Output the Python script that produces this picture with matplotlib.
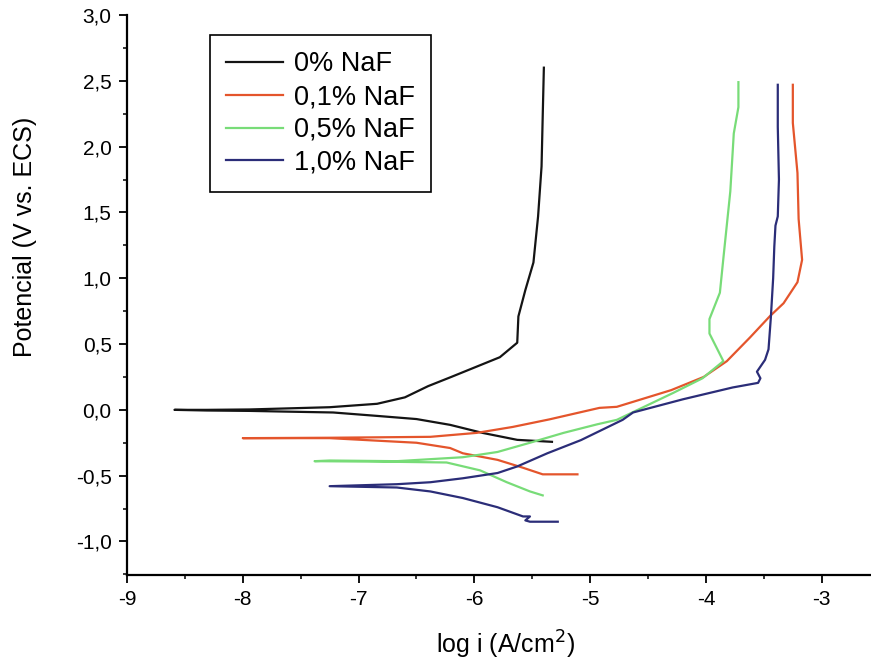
import matplotlib
matplotlib.use('Agg')
import matplotlib.pyplot as plt
from matplotlib.ticker import MultipleLocator

plt.rcParams['font.family'] = ['Liberation Sans', 'DejaVu Sans']

# =====================
# Donnees
# =====================

# 0% NaF
x_0 = [-5.33, -5.63, -5.93, -6.21, -6.50, -6.84, -7.22, -7.65, -7.94, -8.31, -8.59,
       -8.31, -7.94, -7.25, -6.84, -6.60, -6.40, -6.20, -6.06, -5.78, -5.63,
       -5.62, -5.56, -5.49, -5.45, -5.42, -5.41, -5.40]
y_0 = [-0.243, -0.228, -0.175, -0.114, -0.070, -0.046, -0.020, -0.013, -0.008, -0.005, 0.0,
       0.0, 0.003, 0.02, 0.046, 0.095, 0.18, 0.25, 0.30, 0.40, 0.51,
       0.71, 0.91, 1.12, 1.47, 1.85, 2.23, 2.60]

# 0,1% NaF
x_01 = [-5.11, -5.41, -5.58, -5.80, -6.10, -6.21, -6.50, -6.93, -7.25, -8.00,
        -7.25, -6.38, -5.98, -5.67, -5.35, -4.92, -4.77, -4.30, -4.02, -3.82,
        -3.62, -3.45, -3.33, -3.21, -3.17, -3.20, -3.21, -3.25, -3.25]
y_01 = [-0.49, -0.49, -0.44, -0.38, -0.33, -0.29, -0.25, -0.23, -0.215, -0.215,
        -0.212, -0.205, -0.175, -0.13, -0.072, 0.015, 0.023, 0.15, 0.25, 0.37,
        0.55, 0.71, 0.81, 0.97, 1.14, 1.45, 1.80, 2.18, 2.47]

# 0,5% NaF
x_05 = [-5.41, -5.52, -5.72, -5.95, -6.24, -6.67, -7.38,
        -7.25, -6.67, -6.10, -5.80, -5.52, -5.23, -4.94, -4.77, -4.28, -4.03, -3.85,
        -3.97, -3.97, -3.88, -3.85, -3.79, -3.76, -3.72, -3.72]
y_05 = [-0.65, -0.62, -0.55, -0.46, -0.40, -0.395, -0.39,
        -0.385, -0.39, -0.36, -0.32, -0.25, -0.175, -0.11, -0.076, 0.13, 0.24, 0.37,
        0.58, 0.69, 0.89, 1.15, 1.66, 2.10, 2.30, 2.49]

# 1,0% NaF
x_10 = [-5.28, -5.52, -5.56, -5.52, -5.58, -5.80, -6.10, -6.38, -6.67, -7.25,
        -6.67, -6.38, -6.10, -5.80, -5.63, -5.37, -5.08, -4.72, -4.63, -4.20, -3.77,
        -3.55, -3.53, -3.56, -3.49, -3.46, -3.44, -3.42, -3.41, -3.40, -3.38, -3.37,
        -3.38, -3.38]
y_10 = [-0.85, -0.85, -0.84, -0.81, -0.81, -0.74, -0.67, -0.62, -0.59, -0.58,
        -0.565, -0.55, -0.52, -0.48, -0.43, -0.33, -0.23, -0.076, -0.02, 0.08, 0.17,
        0.205, 0.24, 0.29, 0.38, 0.46, 0.70, 1.00, 1.24, 1.40, 1.47, 1.75,
        2.15, 2.47]

labels = ['0% NaF', '0,1% NaF', '0,5% NaF', '1,0% NaF']
couleurs = ['#141414', '#e4552c', '#78dc78', '#2b2d78']

xticks = [-9, -8, -7, -6, -5, -4, -3]
xtick_labels = ['-9', '-8', '-7', '-6', '-5', '-4', '-3']
yticks = [-1.0, -0.5, 0.0, 0.5, 1.0, 1.5, 2.0, 2.5, 3.0]
ytick_labels = ['-1,0', '-0,5', '0,0', '0,5', '1,0', '1,5', '2,0', '2,5', '3,0']

# =====================
# Graphique
# =====================

fig = plt.figure(figsize=(8.71, 6.68), dpi=100)
ax = fig.add_axes([0.1458, 0.1392, 0.8542, 0.8383])

series = [(x_0, y_0), (x_01, y_01), (x_05, y_05), (x_10, y_10)]
for (xs, ys), lab, c in zip(series, labels, couleurs):
    ax.plot(xs, ys, color=c, linewidth=1.6, label=lab)

ax.set_xlim(-9, -2.575)
ax.set_ylim(-1.255, 3.0)

ax.set_xticks(xticks)
ax.set_xticklabels(xtick_labels)
ax.set_yticks(yticks)
ax.set_yticklabels(ytick_labels)
ax.xaxis.set_minor_locator(MultipleLocator(0.5))
ax.yaxis.set_minor_locator(MultipleLocator(0.25))
ax.tick_params(which='major', direction='out', length=6, width=1.3, labelsize=15, pad=5)
ax.tick_params(which='minor', direction='out', length=3, width=1.1)

for s in ['top', 'right']:
    ax.spines[s].set_visible(False)
for s in ['left', 'bottom']:
    ax.spines[s].set_linewidth(1.6)

fig.text(25 / 871, 1 - 237 / 668, 'Potencial (V vs. ECS)', rotation=90,
         ha='center', va='center', fontsize=18)
fig.text(506 / 871, 1 - 645 / 668, 'log i (A/cm$^2$)', ha='center', va='center',
         fontsize=18)

leg = ax.legend(loc='upper left', bbox_to_anchor=(0.1116, 0.964), borderaxespad=0,
                fontsize=19.5, handlelength=2.1, handletextpad=0.4, labelspacing=0.25,
                borderpad=0.6, fancybox=False, framealpha=1, edgecolor='black')
leg.get_frame().set_linewidth(1.2)

plt.savefig('out.png', dpi=100)
